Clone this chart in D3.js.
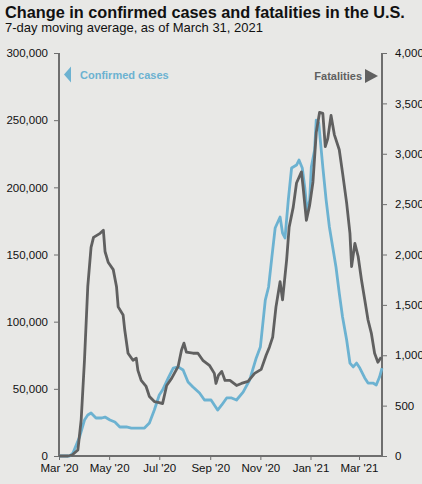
<!DOCTYPE html>
<html><head><meta charset="utf-8">
<script src="https://cdn.jsdelivr.net/npm/d3@7"></script>
<style>
html,body{margin:0;padding:0;background:#e8e8e6;}
svg{display:block;font-family:"Liberation Sans",Arial,sans-serif;}
</style></head>
<body><svg id="c" width="422" height="484"></svg>
<script>
const title = "Change in confirmed cases and fatalities in the U.S.";
const subtitle = "7-day moving average, as of March 31, 2021";
const casesLabel = "Confirmed cases";
const deathsLabel = "Fatalities";

const caseDates = ["2020-03-01","2020-03-14","2020-03-18","2020-03-26","2020-04-01","2020-04-05","2020-04-09","2020-04-15","2020-04-22","2020-04-26","2020-05-02","2020-05-08","2020-05-14","2020-05-22","2020-05-28","2020-06-07","2020-06-13","2020-06-19","2020-06-25","2020-07-01","2020-07-05","2020-07-12","2020-07-18","2020-07-24","2020-07-30","2020-08-05","2020-08-11","2020-08-19","2020-08-25","2020-09-02","2020-09-06","2020-09-10","2020-09-15","2020-09-21","2020-09-27","2020-10-03","2020-10-11","2020-10-19","2020-10-27","2020-11-01","2020-11-07","2020-11-11","2020-11-15","2020-11-19","2020-11-25","2020-11-28","2020-12-01","2020-12-05","2020-12-09","2020-12-15","2020-12-18","2020-12-22","2020-12-25","2020-12-28","2020-12-31","2021-01-02","2021-01-06","2021-01-08","2021-01-11","2021-01-16","2021-01-20","2021-01-24","2021-01-28","2021-02-01","2021-02-05","2021-02-09","2021-02-14","2021-02-18","2021-02-22","2021-02-26","2021-03-02","2021-03-08","2021-03-12","2021-03-18","2021-03-22","2021-03-26","2021-03-29"];
const caseValues = [0,0,2200,14100,26800,30500,32000,28300,28300,29000,26800,25300,21600,21600,20800,20800,20800,24600,34200,45400,49100,58100,65500,66300,64000,55100,51400,46900,41700,41700,38000,34200,38000,43200,43200,41700,47600,56600,73000,81100,116100,125800,148100,169700,177900,166000,162300,190600,214400,216600,220300,214400,200200,181600,190600,215100,227800,250100,247900,215100,190600,170500,155600,140700,121300,103500,86400,69200,66300,69200,65500,58100,54300,54300,52900,58800,65500];

const deathDates = ["2020-03-01","2020-03-12","2020-03-17","2020-03-24","2020-03-28","2020-04-01","2020-04-05","2020-04-09","2020-04-12","2020-04-16","2020-04-20","2020-04-24","2020-04-26","2020-04-30","2020-05-06","2020-05-10","2020-05-12","2020-05-18","2020-05-20","2020-05-24","2020-05-30","2020-06-03","2020-06-05","2020-06-09","2020-06-15","2020-06-19","2020-06-25","2020-07-01","2020-07-05","2020-07-10","2020-07-16","2020-07-24","2020-07-28","2020-07-31","2020-08-03","2020-08-11","2020-08-17","2020-08-23","2020-08-31","2020-09-06","2020-09-08","2020-09-11","2020-09-15","2020-09-19","2020-09-25","2020-10-03","2020-10-09","2020-10-17","2020-10-25","2020-11-02","2020-11-08","2020-11-12","2020-11-16","2020-11-20","2020-11-25","2020-11-28","2020-12-03","2020-12-06","2020-12-11","2020-12-15","2020-12-21","2020-12-23","2020-12-27","2020-12-31","2021-01-04","2021-01-08","2021-01-12","2021-01-16","2021-01-19","2021-01-22","2021-01-26","2021-01-30","2021-02-05","2021-02-09","2021-02-14","2021-02-18","2021-02-20","2021-02-24","2021-02-28","2021-03-04","2021-03-08","2021-03-12","2021-03-16","2021-03-20","2021-03-24","2021-03-28"];
const deathValues = [0,0,10,60,360,950,1680,2070,2170,2190,2210,2240,2030,1920,1850,1680,1480,1400,1250,1020,950,970,850,750,690,590,540,530,520,700,770,890,1050,1120,1030,1020,1020,950,900,820,720,800,840,750,750,700,720,740,820,860,1000,1080,1180,1480,1730,1550,1950,2270,2470,2710,2820,2670,2340,2490,2720,3210,3410,3400,3070,3150,3380,3190,3040,2810,2510,2210,1880,2110,1980,1750,1550,1350,1220,1020,930,980];

const leftTicks = [0,50000,100000,150000,200000,250000,300000];
const rightTicks = [0,500,1000,1500,2000,2500,3000,3500,4000];
const xTickDates = ["2020-03-01","2020-05-01","2020-07-01","2020-09-01","2020-11-01","2021-01-01","2021-03-01"];
const xDomain = ["2020-03-01","2021-03-29"];

const parse = d3.timeParse("%Y-%m-%d");
const svg = d3.select("#c");
const m = {l:59, r:382, t:53, b:456};

const x = d3.scaleTime().domain(xDomain.map(parse)).range([m.l, m.r]);
const yL = d3.scaleLinear().domain([0,300000]).range([m.b, m.t]);
const yR = d3.scaleLinear().domain([0,4000]).range([m.b, m.t]);

const axisColor = "#6e6e6e";
const blue = "#6cb2d1";
const gray = "#606060";

svg.append("text").attr("x",5).attr("y",18).attr("font-size",16.3).attr("font-weight","bold").attr("fill","#111").text(title);
svg.append("text").attr("x",5).attr("y",32).attr("font-size",13).attr("fill","#111").text(subtitle);

function styleAxis(g){
  g.selectAll(".domain").remove();
  g.selectAll(".tick line").attr("stroke",axisColor).attr("stroke-width",1);
  g.selectAll(".tick text").attr("fill","#111").attr("font-size",11.5).attr("font-family","Liberation Sans, Arial, sans-serif");
}

const gl = svg.append("g").attr("transform",`translate(${m.l},0)`)
  .call(d3.axisLeft(yL).tickValues(leftTicks).tickSize(5).tickPadding(6).tickFormat(d3.format(",")));
styleAxis(gl);
const gr = svg.append("g").attr("transform",`translate(${m.r},0)`)
  .call(d3.axisRight(yR).tickValues(rightTicks).tickSize(5).tickPadding(8).tickFormat(d3.format(",")));
styleAxis(gr);
const gb = svg.append("g").attr("transform",`translate(0,${m.b})`)
  .call(d3.axisBottom(x).tickValues(xTickDates.map(parse)).tickSize(4).tickPadding(4).tickFormat(d3.timeFormat("%b '%y")));
styleAxis(gb);

// axis lines
svg.append("line").attr("x1",m.l).attr("x2",m.l).attr("y1",m.t).attr("y2",m.b).attr("stroke",axisColor).attr("stroke-width",2);
svg.append("line").attr("x1",m.r).attr("x2",m.r).attr("y1",m.t).attr("y2",m.b).attr("stroke",axisColor).attr("stroke-width",2);
svg.append("line").attr("x1",m.l).attr("x2",m.r).attr("y1",m.b).attr("y2",m.b).attr("stroke",axisColor).attr("stroke-width",2);

const cases = caseDates.map((d,i)=>({d:parse(d),v:caseValues[i]}));
const deaths = deathDates.map((d,i)=>({d:parse(d),v:deathValues[i]}));

svg.append("path").datum(cases).attr("fill","none").attr("stroke",blue).attr("stroke-width",2.8).attr("stroke-linejoin","round")
  .attr("d", d3.line().x(p=>x(p.d)).y(p=>yL(p.v)));
svg.append("path").datum(deaths).attr("fill","none").attr("stroke",gray).attr("stroke-width",2.8).attr("stroke-linejoin","round")
  .attr("d", d3.line().x(p=>x(p.d)).y(p=>yR(p.v)));

// labels
svg.append("path").attr("d","M64,74.5 L71,66.5 L71,82.5 Z").attr("fill",blue);
svg.append("text").attr("x",80).attr("y",78.5).attr("font-size",11).attr("font-weight","bold").attr("fill",blue).text(casesLabel);
svg.append("path").attr("d","M378,76 L365,69 L365,83 Z").attr("fill",gray);
svg.append("text").attr("x",362).attr("y",80).attr("text-anchor","end").attr("font-size",11).attr("font-weight","bold").attr("fill",gray).text(deathsLabel);
</script></body></html>
